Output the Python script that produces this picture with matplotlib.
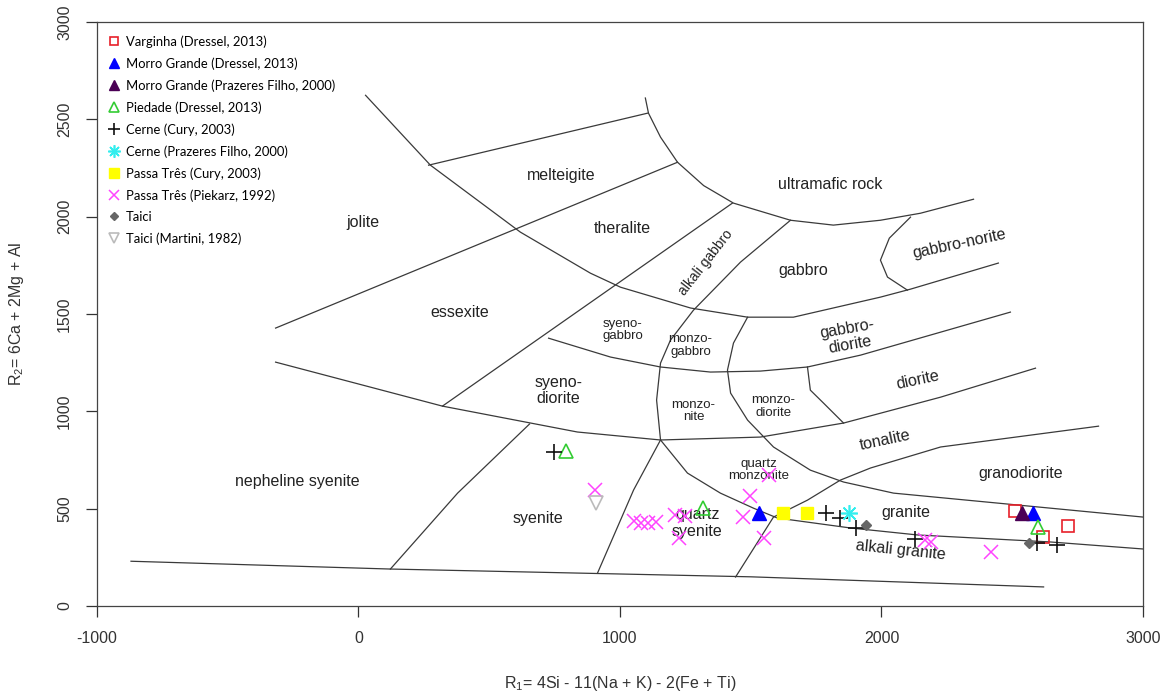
import matplotlib.pyplot as plt

plt.rcParams['font.family'] = ['Liberation Sans', 'DejaVu Sans']
plt.rcParams['mathtext.default'] = 'regular'
plt.rcParams['axes.unicode_minus'] = False

# boundary lines of the R1-R2 diagram (R1, R2)
line_base = [(-870, 230), (120, 190), (1500, 150), (2620, 98)]
line_nesyen = [(122, 190), (379, 580), (654, 935)]
line_main = [(-317, 1253), (321, 1027), (837, 894), (1155, 853), (1537, 868),
             (1855, 940), (2226, 1073), (2589, 1222)]
line_tonal = [(1442, 149), (1587, 457), (1717, 544), (1843, 647), (1958, 709),
              (2226, 817), (2830, 924)]
line_ultra = [(1097, 2610), (1109, 2532), (1155, 2409), (1220, 2280), (1320, 2160),
              (1434, 2070), (1652, 1982), (1816, 1957), (1996, 1982), (2149, 2018),
              (2352, 2090)]
line_gabbro = [(27, 2624), (275, 2265), (619, 1921), (887, 1710), (1002, 1638),
               (1270, 1531), (1488, 1484), (1663, 1484), (1996, 1587), (2111, 1628),
               (2447, 1762)]
line_norite = [(2111, 1998), (2030, 1890), (1996, 1777), (2023, 1690), (2099, 1623)]
line_melt = [(268, 2265), (1105, 2532)]
line_essex = [(-317, 1428), (1220, 2280)]
line_theral = [(321, 1027), (1430, 2070)]
line_alkgab = [(1652, 1982), (1461, 1767), (1281, 1520), (1193, 1366), (1155, 1248),
               (1140, 1058), (1155, 853)]
line_qsyen = [(1155, 853), (1052, 596), (914, 169)]
line_syengab = [(727, 1376), (964, 1279), (1155, 1228), (1346, 1202), (1537, 1207),
                (1717, 1228), (1920, 1289), (2226, 1407), (2493, 1510)]
line_monzo = [(1488, 1484), (1434, 1351), (1411, 1212), (1423, 1094), (1488, 955),
              (1587, 817), (1728, 698), (1855, 637), (2046, 580), (2520, 519), (3000, 457)]
line_dior = [(1717, 1228), (1728, 1109), (1778, 1043), (1855, 940)]
line_granite = [(1155, 853), (1258, 683), (1384, 580), (1510, 503), (1602, 452),
                (1881, 401), (2138, 365), (2646, 329), (3000, 293)]

boundaries = [line_base, line_nesyen, line_main, line_tonal, line_ultra, line_gabbro,
              line_norite, line_melt, line_essex, line_theral, line_alkgab, line_qsyen,
              line_syengab, line_monzo, line_dior, line_granite]

# field names: (text, R1, R2, rotation, size)
fields = [
    ('melteigite', 776, 2214, 0, 11.5), ('ultramafic rock', 1805, 2167, 0, 11.5),
    ('jolite', 15, 1972, 0, 11.5), ('theralite', 1010, 1941, 0, 11.5),
    ('alkali gabbro', 1327, 1767, 52, 10), ('gabbro', 1702, 1726, 0, 11.5),
    ('gabbro-norite', 2298, 1859, 12, 11.5), ('essexite', 386, 1510, 0, 11.5),
    ('syeno-\ngabbro', 1010, 1418, 0, 9.5), ('monzo-\ngabbro', 1270, 1340, 0, 9.5),
    ('gabbro-\ndiorite', 1874, 1382, 10, 11.5), ('syeno-\ndiorite', 765, 1109, 0, 11.5),
    ('monzo-\nnite', 1281, 1002, 0, 9.5), ('monzo-\ndiorite', 1587, 1027, 0, 9.5),
    ('diorite', 2138, 1161, 12, 11.5), ('tonalite', 2015, 853, 12, 11.5),
    ('quartz\nmonzonite', 1530, 699, 0, 9.5), ('granodiorite', 2532, 683, 0, 11.5),
    ('nepheline syenite', -233, 642, 0, 11.5), ('syenite', 685, 452, 0, 11.5),
    ('quartz\nsyenite', 1296, 426, 0, 11.5), ('granite', 2092, 478, 0, 11.5),
    ('alkali granite', 2073, 288, -6, 11.5),
]

# samples
varginha_r1 = [2509, 2619, 2715]
varginha_r2 = [488, 354, 411]
mgrande_r1 = [1530, 2581]
mgrande_r2 = [478, 478]
mgrande_pf_r1 = [2539]
mgrande_pf_r2 = [478]
piedade_r1 = [795, 1319, 2600]
piedade_r2 = [796, 503, 406]
cerne_r1 = [746, 1786, 1843, 1904, 2130, 2593, 2673]
cerne_r2 = [791, 478, 452, 401, 344, 324, 313]
cerne_pf_r1 = [1874]
cerne_pf_r2 = [478]
passa_r1 = [1625, 1717]
passa_r2 = [478, 478]
passa_pk_r1 = [906, 1052, 1082, 1109, 1136, 1212, 1250, 1224, 1472, 1499, 1568, 1549,
               2168, 2191, 2417]
passa_pk_r2 = [596, 437, 426, 426, 431, 467, 462, 349, 457, 565, 673, 349, 339, 329, 277]
taici_r1 = [1939, 2566]
taici_r2 = [416, 324]
taici_m_r1 = [910]
taici_m_r2 = [529]

fig = plt.figure(figsize=(11.73, 6.91), dpi=100)
ax = fig.add_axes([0.0827, 0.123, 0.8917, 0.845])

for line in boundaries:
    xs = [p[0] for p in line]
    ys = [p[1] for p in line]
    ax.plot(xs, ys, color='#3a3a3a', lw=0.9, zorder=1)

for text, x, y, rot, size in fields:
    ax.text(x, y, text, ha='center', va='center', rotation=rot, fontsize=size,
            color='#222222', linespacing=1.1, zorder=2)

ax.plot(varginha_r1, varginha_r2, 's', mfc='none', mec='#e8202a', mew=1.2, ms=8.5,
        ls='none', label='Varginha (Dressel, 2013)', zorder=3)
ax.plot(mgrande_r1, mgrande_r2, '^', color='#0000ff', ms=10, ls='none',
        label='Morro Grande (Dressel, 2013)', zorder=3)
ax.plot(mgrande_pf_r1, mgrande_pf_r2, '^', color='#4b0055', ms=10, ls='none',
        label='Morro Grande (Prazeres Filho, 2000)', zorder=3)
ax.plot(piedade_r1, piedade_r2, '^', mfc='none', mec='#33cc33', mew=1.2, ms=10,
        ls='none', label='Piedade (Dressel, 2013)', zorder=3)
ax.plot(cerne_r1, cerne_r2, '+', color='#111111', mew=1.2, ms=12, ls='none',
        label='Cerne (Cury, 2003)', zorder=3)
ax.plot(cerne_pf_r1, cerne_pf_r2, marker=(8, 2, 0), color='#33eeee', mew=1.2, ms=12,
        ls='none', label='Cerne (Prazeres Filho, 2000)', zorder=3)
ax.plot(passa_r1, passa_r2, 's', color='#ffff00', ms=9, ls='none',
        label='Passa Três (Cury, 2003)', zorder=3)
ax.plot(passa_pk_r1, passa_pk_r2, 'x', color='#ff44ff', mew=1.1, ms=10, ls='none',
        label='Passa Três (Piekarz, 1992)', zorder=3)
ax.plot(taici_r1, taici_r2, 'D', color='#666666', ms=5, ls='none', label='Taici',
        zorder=3)
ax.plot(taici_m_r1, taici_m_r2, 'v', mfc='none', mec='#bbbbbb', mew=1.2, ms=10,
        ls='none', label='Taici (Martini, 1982)', zorder=3)

leg = ax.legend(loc='upper left', bbox_to_anchor=(0.0, 0.995), frameon=False,
                handlelength=1.0, handletextpad=0.4, labelspacing=0.72,
                borderpad=0.3, markerscale=0.75,
                prop={'family': ['Lato', 'DejaVu Sans'], 'size': 9.4})

ax.set_xlim(-1000, 3000)
ax.set_ylim(0, 3000)
ax.set_xticks([-1000, 0, 1000, 2000, 3000])
ax.set_yticks([0, 500, 1000, 1500, 2000, 2500, 3000])
ax.tick_params(axis='both', direction='out', length=8, width=0.9, colors='#333333',
               labelsize=11.5, labelcolor='#333333', pad=10)
for lab in ax.get_yticklabels():
    lab.set_rotation(90)
    lab.set_va('center')
for sp in ax.spines.values():
    sp.set_color('#444444')
    sp.set_linewidth(0.9)

ax.set_xlabel('R$_1$= 4Si - 11(Na + K) - 2(Fe + Ti)', fontsize=11.5, color='#333333',
              labelpad=20)
ax.set_ylabel('R$_2$= 6Ca + 2Mg + Al', fontsize=11.5, color='#333333', labelpad=22)

fig.savefig('out.png', dpi=100)
